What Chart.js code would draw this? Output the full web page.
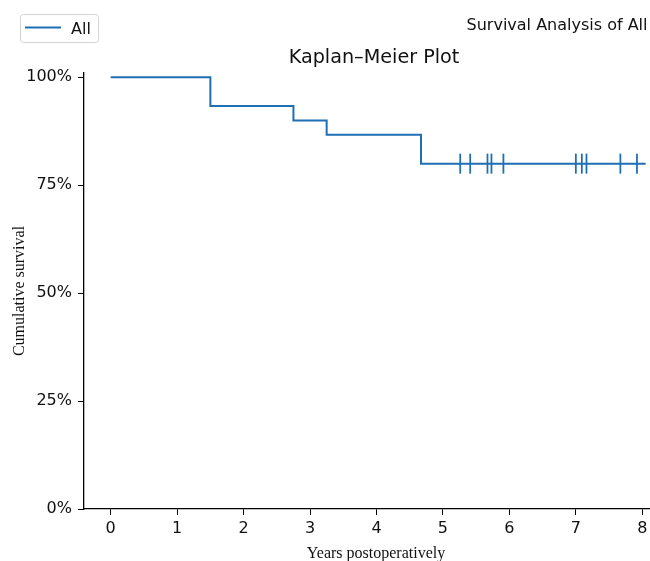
<!DOCTYPE html>
<html>
<head>
<meta charset="utf-8">
<title>Kaplan–Meier Plot</title>
<script src="https://cdn.jsdelivr.net/npm/chart.js@4.4.1/dist/chart.umd.min.js"></script>
<style>
  html, body { margin: 0; padding: 0; background: #fff; overflow: hidden; }
</style>
</head>
<body>
<canvas id="km" width="650" height="561"></canvas>
<script>
// step times (years) and survival after each step
const stepTimes = [0, 1.50, 2.75, 3.25, 4.67, 8.05];
const survival = [1, 0.9333, 0.9, 0.8667, 0.8, 0.8];
// censored patients
const censorTimes = [5.26, 5.41, 5.67, 5.73, 5.91, 7.00, 7.09, 7.16, 7.67, 7.92];
const censorSurvival = [0.8, 0.8, 0.8, 0.8, 0.8, 0.8, 0.8, 0.8, 0.8, 0.8];
const xTicks = [0, 1, 2, 3, 4, 5, 6, 7, 8];
const yTicks = [0, 0.25, 0.5, 0.75, 1];

const blue = "#1f6fb4";
const ink = "#111";
const sans = '"DejaVu Sans", sans-serif';
const serif = '"Liberation Serif", "Times New Roman", serif';

// legend box, figure label, title and x label drawn on the canvas
// (the original axes ran a bit past the right edge, so centres sit at ~374)
const extras = {
  id: "extras",
  afterDraw(chart) {
    const ctx = chart.ctx;
    ctx.save();
    ctx.beginPath();
    ctx.roundRect(20.5, 14.5, 78, 28, 3);
    ctx.fillStyle = "rgba(255,255,255,0.8)";
    ctx.fill();
    ctx.strokeStyle = "#d3d3d3";
    ctx.lineWidth = 1;
    ctx.stroke();

    ctx.beginPath();
    ctx.moveTo(25, 27.5);
    ctx.lineTo(61, 27.5);
    ctx.strokeStyle = blue;
    ctx.lineWidth = 2;
    ctx.stroke();

    ctx.fillStyle = ink;
    ctx.textBaseline = "alphabetic";
    ctx.font = "16px " + sans;
    ctx.textAlign = "left";
    ctx.fillText(chart.data.datasets[0].label, 71, 34);

    ctx.textAlign = "right";
    ctx.fillText("Survival Analysis of All", 647.5, 30);

    ctx.font = "19.2px " + sans;
    ctx.textAlign = "center";
    ctx.fillText("Kaplan–Meier Plot", 374, 63);

    ctx.font = "16px " + serif;
    ctx.fillText("Years postoperatively", 376, 558);
    ctx.restore();
  }
};

new Chart(document.getElementById("km"), {
  type: "line",
  data: {
    datasets: [
      {
        label: "All",
        data: stepTimes.map((t, i) => ({ x: t, y: survival[i] })),
        stepped: "before",
        borderColor: blue,
        borderWidth: 2,
        pointRadius: 0,
        fill: false,
      },
      {
        label: "censored",
        data: censorTimes.map((t, i) => ({ x: t, y: censorSurvival[i] })),
        showLine: false,
        pointStyle: "line",
        rotation: 90,
        pointRadius: 10,
        pointHoverRadius: 10,
        borderColor: blue,
        borderWidth: 1.8,
      },
    ],
  },
  options: {
    responsive: false,
    animation: false,
    layout: { autoPadding: false, padding: { top: 73, right: 0, left: 0, bottom: 0 } },
    plugins: {
      legend: { display: false },
      title: { display: false },
      tooltip: { enabled: false },
    },
    scales: {
      x: {
        type: "linear",
        min: -0.4017,
        max: 8.116,
        afterBuildTicks: (s) => { s.ticks = xTicks.map((v) => ({ value: v })); },
        afterFit: (s) => {
          s.height = 52;
          s.paddingLeft = 0;
          s.paddingRight = 0;
        },
        grid: { drawOnChartArea: false, tickLength: 6, color: "#000", lineWidth: 1 },
        border: { color: "#000", width: 1.3 },
        ticks: { font: { family: sans, size: 16 }, color: ink, padding: 4, maxRotation: 0 },
      },
      y: {
        min: 0,
        max: 1.01,
        afterBuildTicks: (s) => { s.ticks = yTicks.map((v) => ({ value: v })); },
        afterFit: (s) => {
          s.width = 84;
          s.paddingTop = 0;
          s.paddingBottom = 0;
        },
        grid: { drawOnChartArea: false, tickLength: 6, color: "#000", lineWidth: 1 },
        border: { color: "#000", width: 1.3 },
        ticks: {
          font: { family: sans, size: 16 },
          color: ink,
          padding: 6,
          callback: (v) => Math.round(v * 100) + "%",
        },
        title: {
          display: true,
          text: "Cumulative survival",
          font: { family: serif, size: 16, lineHeight: 1 },
          color: ink,
          padding: { top: 12, bottom: 0 },
        },
      },
    },
  },
  plugins: [extras],
});
</script>
</body>
</html>
